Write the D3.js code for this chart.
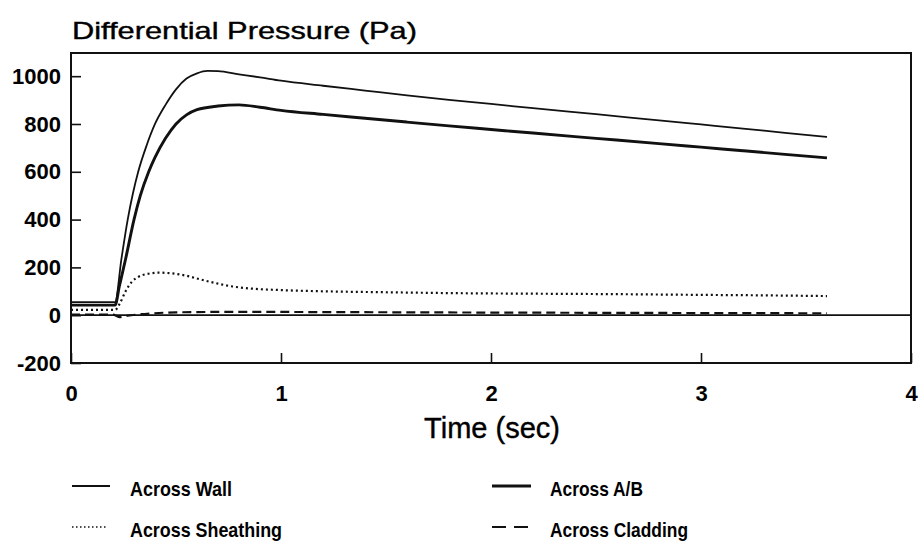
<!DOCTYPE html>
<html>
<head>
<meta charset="utf-8">
<script src="https://cdn.jsdelivr.net/npm/d3@7"></script>
<style>
  body { margin: 0; background: #fff; }
  svg { display: block; font-family: "Liberation Sans", Arial, sans-serif; }
</style>
</head>
<body>
<script>
// values
var wallTime   = [0, 0.1, 0.21, 0.24, 0.27, 0.295, 0.32, 0.36, 0.4, 0.45, 0.5, 0.55, 0.6, 0.65, 0.7, 0.8, 0.9, 1.0, 1.2, 1.4, 1.6, 1.8, 2.0, 2.2, 2.5, 2.8, 3.0, 3.2, 3.4, 3.6];
var wallValues = [55, 55, 55, 235, 400, 510, 600, 710, 800, 880, 945, 990, 1012, 1022, 1021, 1008, 995, 981, 960, 940, 920, 901, 884, 866, 841, 815, 798, 781, 763, 746];

var abTime   = [0, 0.1, 0.21, 0.23, 0.26, 0.3, 0.33, 0.37, 0.4, 0.45, 0.5, 0.55, 0.6, 0.7, 0.8, 0.9, 1.0, 1.2, 1.4, 1.6, 1.8, 2.0, 2.2, 2.5, 2.8, 3.0, 3.2, 3.4, 3.6];
var abValues = [42, 42, 42, 120, 235, 400, 500, 600, 660, 740, 800, 838, 860, 875, 880, 870, 857, 840, 824, 808, 792, 777, 762, 740, 718, 703, 688, 673, 658];

var sheathTime   = [0, 0.1, 0.21, 0.23, 0.26, 0.29, 0.32, 0.36, 0.42, 0.48, 0.55, 0.61, 0.7, 0.77, 0.85, 1.0, 1.2, 1.5, 1.85, 2.2, 2.6, 3.0, 3.3, 3.6];
var sheathValues = [22, 22, 22, 45, 100, 140, 160, 172, 178, 175, 165, 151, 132, 120, 112, 105, 100, 96, 92, 90, 88, 85, 83, 80];

var cladTime   = [0, 0.1, 0.2, 0.23, 0.27, 0.35, 0.5, 0.8, 1.2, 1.6, 2.0, 2.5, 3.0, 3.6];
var cladValues = [2, 2, 2, -8, -2, 5, 12, 14, 13, 12, 11, 10, 9, 8];

var yTicks = [-200, 0, 200, 400, 600, 800, 1000];
var xTicks = [0, 1, 2, 3, 4];
var legendLabels = ["Across Wall", "Across A/B", "Across Sheathing", "Across Cladding"];

var svg = d3.select("body").append("svg")
    .attr("width", 918)
    .attr("height", 542);

var pLeft = 71, pRight = 911, pTop = 53, pBottom = 363;

var x = d3.scaleLinear().domain([0, 4]).range([pLeft, pRight]);
var y = d3.scaleLinear().domain([-200, 1097]).range([pBottom, pTop]);

// title
svg.append("text")
    .attr("x", 72)
    .attr("y", 39)
    .attr("font-size", 24)
    .attr("textLength", 345)
    .attr("lengthAdjust", "spacingAndGlyphs")
    .attr("fill", "#000")
    .attr("stroke", "#000")
    .attr("stroke-width", 0.4)
    .text("Differential Pressure (Pa)");

// axes, ticks point inward
var plain = function(d){ return String(d) };   // keep the ascii hyphen on -200

var yAxis = svg.append("g")
    .attr("transform", "translate(" + pLeft + ",0)")
    .call(d3.axisLeft(y).tickValues(yTicks).tickFormat(plain).tickSizeInner(-10).tickSizeOuter(0).tickPadding(10));

var xAxis = svg.append("g")
    .attr("transform", "translate(0," + pBottom + ")")
    .call(d3.axisBottom(x).tickValues(xTicks).tickFormat(plain).tickSizeInner(-10).tickSizeOuter(0).tickPadding(22));

yAxis.select(".domain").remove();
xAxis.select(".domain").remove();
svg.selectAll(".tick line").attr("stroke", "#111").attr("stroke-width", 1.6);
svg.selectAll(".tick text")
    .attr("font-size", 22)
    .attr("font-weight", "bold")
    .attr("font-family", "'Liberation Sans', Arial, sans-serif")
    .attr("fill", "#000");

// frame
svg.append("rect")
    .attr("x", pLeft).attr("y", pTop)
    .attr("width", pRight - pLeft).attr("height", pBottom - pTop)
    .attr("fill", "none")
    .attr("stroke", "#111")
    .attr("stroke-width", 2);

// zero line
svg.append("line")
    .attr("x1", pLeft).attr("x2", pRight)
    .attr("y1", y(0)).attr("y2", y(0))
    .attr("stroke", "#111")
    .attr("stroke-width", 1.8);

svg.append("text")
    .attr("x", 492)
    .attr("y", 438)
    .attr("text-anchor", "middle")
    .attr("font-size", 29)
    .attr("fill", "#000")
    .attr("stroke", "#000")
    .attr("stroke-width", 0.4)
    .text("Time (sec)");

var series = [
    { t: wallTime, v: wallValues, w: 1.8, dash: null },
    { t: abTime, v: abValues, w: 2.9, dash: null },
    { t: sheathTime, v: sheathValues, w: 2.2, dash: "2,3" },
    { t: cladTime, v: cladValues, w: 2.2, dash: "9,5" }
];

var line = d3.line()
    .x(function(d){ return x(d[0]) })
    .y(function(d){ return y(d[1]) })
    .curve(d3.curveMonotoneX);

series.forEach(function(s){
    svg.append("path")
        .datum(d3.zip(s.t, s.v))
        .attr("d", line)
        .attr("fill", "none")
        .attr("stroke", "#111")
        .attr("stroke-width", s.w)
        .attr("stroke-dasharray", s.dash);
});

// legend
var legPos = [
    { lx: 72, ty: 496, tw: 102 },
    { lx: 492, ty: 496, tw: 93 },
    { lx: 72, ty: 537, tw: 152 },
    { lx: 492, ty: 537, tw: 138 }
];
var legStyle = [
    { w: 1.8, dash: null, len: 38 },
    { w: 2.9, dash: null, len: 39 },
    { w: 1.5, dash: "1.5,2.5", len: 34 },
    { w: 2, dash: "14,8", len: 36 }
];

legendLabels.forEach(function(name, i){
    var p = legPos[i], st = legStyle[i];
    svg.append("line")
        .attr("x1", p.lx).attr("x2", p.lx + st.len)
        .attr("y1", p.ty - 10).attr("y2", p.ty - 10)
        .attr("stroke", "#111")
        .attr("stroke-width", st.w)
        .attr("stroke-dasharray", st.dash);
    svg.append("text")
        .attr("x", p.lx + 58)
        .attr("y", p.ty)
        .attr("font-size", 21)
        .attr("font-weight", "bold")
        .attr("textLength", p.tw)
        .attr("lengthAdjust", "spacingAndGlyphs")
        .attr("fill", "#000")
        .text(name);
});
</script>
</body>
</html>
